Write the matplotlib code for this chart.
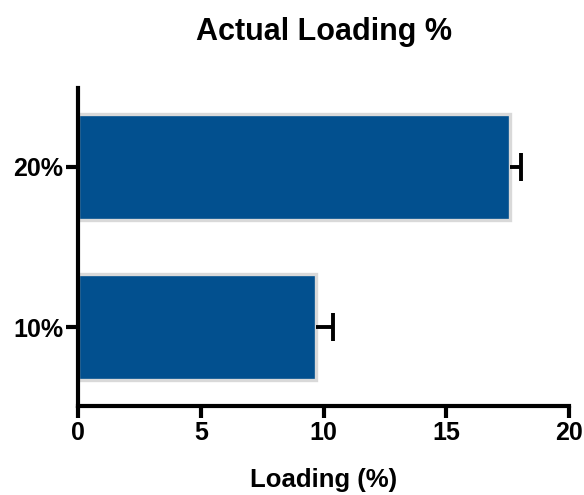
import matplotlib
matplotlib.use("Agg")
import matplotlib.pyplot as plt

categories = ["10%", "20%"]
values = [9.7, 17.6]
errors = [0.7, 0.45]
x_ticks = [0, 5, 10, 15, 20]

plt.rcParams['font.family'] = ['Liberation Sans', 'DejaVu Sans']
plt.rcParams['font.weight'] = 'bold'

fig = plt.figure(figsize=(5.84, 4.95), dpi=100)
ax = fig.add_axes([0.1336, 0.1798, 0.8407, 0.6424])

pos = list(range(len(categories)))
ax.barh(pos, values, height=0.66, color="#02508F", edgecolor="#D9D9D9",
        linewidth=2.4, zorder=2)
ends = [v + e for v, e in zip(values, errors)]
ax.hlines(pos, values, ends, colors='black', linewidth=2.8, zorder=3)
ax.plot(ends, pos, linestyle='none', marker='|', markersize=20,
        markeredgewidth=2.8, color='black', zorder=3)

ax.set_xlim(0, 20)
ax.set_ylim(-0.49, 1.49)
ax.set_xticks(x_ticks)
ax.set_xticklabels([str(t) for t in x_ticks], fontsize=18, fontweight='bold')
ax.set_yticks(pos)
ax.set_yticklabels(categories, fontsize=18, fontweight='bold')

for s in ['top', 'right']:
    ax.spines[s].set_visible(False)
for s in ['left', 'bottom']:
    ax.spines[s].set_linewidth(3)
ax.tick_params(axis='both', width=3, length=8.5, pad=2)

ax.set_xlabel("Loading (%)", fontsize=18.5, fontweight='bold', labelpad=17)
fig.text(0.555, 0.936, "Actual Loading %", fontsize=22, fontweight='bold',
         ha='center', va='center')

fig.savefig("out.png", dpi=100)
